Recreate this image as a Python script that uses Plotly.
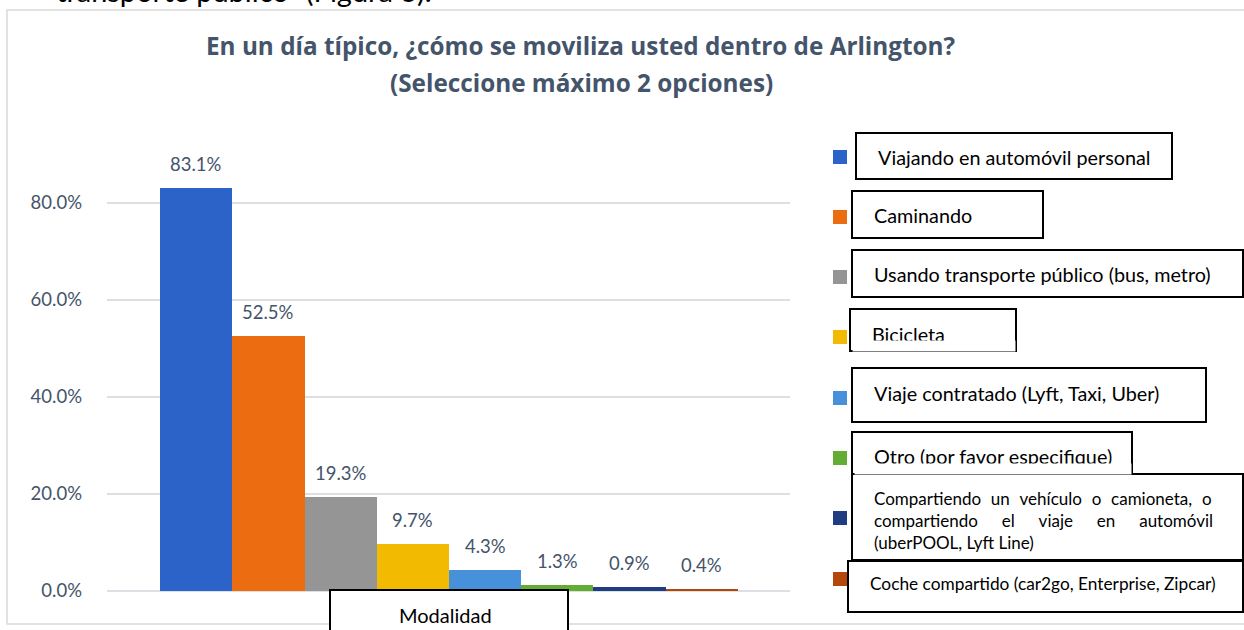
import plotly.graph_objects as go

# ---------------- data ----------------
categories = [
    "Viajando en automóvil personal",
    "Caminando",
    "Usando transporte público (bus, metro)",
    "Bicicleta",
    "Viaje contratado (Lyft, Taxi, Uber)",
    "Otro (por favor especifique)",
    "Compartiendo un vehículo o camioneta, o compartiendo el viaje en automóvil (uberPOOL, Lyft Line)",
    "Coche compartido (car2go, Enterprise, Zipcar)",
]
values = [83.1, 52.5, 19.3, 9.7, 4.3, 1.3, 0.9, 0.4]
colors = ["#2B63C9", "#EC6C12", "#959595", "#F2BA00", "#4691D9", "#63AD35", "#1F3D80", "#B4470C"]

# justified (spread) text for the long legend entry
GAP1 = " \u00a0\u200a"
GAP2 = " \u00a0\u00a0\u00a0\u00a0\u2009"
legend_lines = [
    "Viajando en automóvil personal",
    "Caminando",
    "Usando transporte público (bus, metro)",
    "Bicicleta",
    "Viaje contratado (Lyft, Taxi, Uber)",
    "Otro (por favor especifique)",
    GAP1.join(["Compartiendo", "un", "vehículo", "o", "camioneta,", "o"]) + "<br>"
    + GAP2.join(["compartiendo", "el", "viaje", "en", "automóvil"]) + "<br>"
    + "(uberPOOL, Lyft Line)",
    "Coche compartido (car2go, Enterprise, Zipcar)",
]
axis_title = "Modalidad"
tick_vals = [0, 20, 40, 60, 80]
tick_text = ["0.0%", "20.0%", "40.0%", "60.0%", "80.0%"]
title_line1 = "En un día típico, ¿cómo se moviliza usted dentro de Arlington?"
title_line2 = "(Seleccione máximo 2 opciones)"
top_text = "transporte público” (Figura 3)."

# ---------------- layout geometry (pixels) ----------------
W, H = 1244, 630
L, R, T, B = 107, 790, 154, 591

def px(x):
    return (x - L) / (R - L)

def py(y):
    return (B - y) / (B - T)

SLATE = "#44546A"
FONT = "Lato"

fig = go.Figure()
fig.add_trace(go.Bar(
    x=categories, y=values,
    marker=dict(color=colors, line=dict(width=0)),
    showlegend=False, hoverinfo="skip",
))

annotations = []
# data labels
for c, v in zip(categories, values):
    annotations.append(dict(
        x=c, y=v, xref="x", yref="y", text=f"{v:.1f}%", showarrow=False,
        yanchor="bottom", yshift=11, font=dict(family=FONT, size=18.5, color=SLATE)))

# title
annotations.append(dict(x=px(581), y=py(46), xref="paper", yref="paper", text=f"<b>{title_line1}</b>",
                        showarrow=False, xanchor="center", yanchor="middle",
                        font=dict(family="Open Sans", size=24.3, color=SLATE)))
annotations.append(dict(x=px(581), y=py(83), xref="paper", yref="paper", text=f"<b>{title_line2}</b>",
                        showarrow=False, xanchor="center", yanchor="middle",
                        font=dict(family="Open Sans", size=24.3, color=SLATE)))
# cut-off text above the chart frame
annotations.append(dict(x=px(54), y=py(10), xref="paper", yref="paper", text=top_text,
                        showarrow=False, xanchor="left", yanchor="bottom",
                        font=dict(family=FONT, size=29, color="#000000")))

shapes = []
# chart frame
shapes.append(dict(type="rect", xref="paper", yref="paper", x0=px(7), x1=px(1260), y0=py(624), y1=py(10),
                   line=dict(color="#D9D9D9", width=1.5), fillcolor="rgba(0,0,0,0)", layer="below"))

# custom legend: boxes (x0, x1, y0, y1), text x, text y center, font size
legend_boxes = [
    (856, 1172, 133, 179, 876, 157, 19.8),
    (852, 1043, 191, 238, 872, 215, 19.8),
    (852, 1243, 250, 297, 872, 274, 19.8),
    (850, 1016, 309, 351, 870, 334, 19.8),
    (852, 1206, 368, 422, 872, 393, 19.8),
    (852, 1132, 432, 474, 872, 456, 19.8),
    (852, 1243, 474, 560, 872, 520, 17),
    (848, 1243, 561, 612, 868, 583, 17.3),
]
square_y = [157, 217, 277, 337, 398, 458, 518, 579]
for i, (x0, x1, y0, y1, tx, ty, fs) in enumerate(legend_boxes):
    shapes.append(dict(type="rect", xref="paper", yref="paper", x0=px(x0), x1=px(x1), y0=py(y1), y1=py(y0),
                       line=dict(color="#000000", width=2), fillcolor="white"))
    shapes.append(dict(type="rect", xref="paper", yref="paper", x0=px(833), x1=px(847),
                       y0=py(square_y[i] + 7), y1=py(square_y[i] - 7),
                       line=dict(width=0), fillcolor=colors[i]))
    annotations.append(dict(x=px(tx), y=py(ty), xref="paper", yref="paper", text=legend_lines[i],
                            showarrow=False, xanchor="left", yanchor="middle", align="left",
                            font=dict(family=FONT, size=fs, color="#000000")))

# text frames that clip the bottom of two legend labels
for (cx0, cx1, cy0, cy1) in [(852, 1014, 340, 349.5), (854, 1130, 463, 472.5)]:
    annotations.append(dict(x=px(cx0), y=py(cy0), xref="paper", yref="paper", text=" ",
                            showarrow=False, xanchor="left", yanchor="top",
                            width=cx1 - cx0, height=cy1 - cy0, borderpad=0, bgcolor="white",
                            font=dict(size=4)))

# x-axis title box
shapes.append(dict(type="rect", xref="paper", yref="paper", x0=px(330), x1=px(568), y0=py(640), y1=py(590),
                   line=dict(color="#000000", width=2), fillcolor="white"))
annotations.append(dict(x=px(445), y=py(615), xref="paper", yref="paper", text=axis_title,
                        showarrow=False, xanchor="center", yanchor="middle",
                        font=dict(family=FONT, size=20, color="#000000")))

fig.update_layout(
    width=W, height=H, autosize=False,
    margin=dict(l=L, r=W - R, t=T, b=H - B, pad=0),
    paper_bgcolor="white", plot_bgcolor="white",
    bargap=0,
    showlegend=False,
    annotations=annotations,
    shapes=shapes,
    xaxis=dict(range=[-1.234, 8.22], showticklabels=False, showgrid=False, zeroline=False,
               showline=False, ticks="", fixedrange=True),
    yaxis=dict(range=[0, 90], tickvals=tick_vals, ticktext=tick_text, showgrid=True,
               gridcolor="#DCDFE3", gridwidth=1.5, zeroline=True, zerolinecolor="#DCDFE3", zerolinewidth=1.5,
               showline=False, ticks="", ticklabelstandoff=24,
               tickfont=dict(family=FONT, size=18.5, color=SLATE)),
)

fig.write_html("out.html")
